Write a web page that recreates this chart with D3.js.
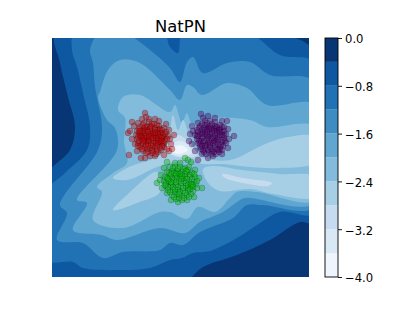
<!DOCTYPE html>
<html><head><meta charset="utf-8">
<script src="https://cdn.jsdelivr.net/npm/d3@7"></script>
<style>html,body{margin:0;padding:0;background:#fff}svg{display:block}text{font-family:"DejaVu Sans",sans-serif;fill:#000}</style>
</head><body><svg id="c" width="415" height="312"></svg>
<script>
const title = "NatPN";
const levels = [-4,-3.6,-3.2,-2.8,-2.4,-2,-1.6,-1.2,-0.8,-0.4,0];
const bandColors = ["#eef5fc","#d9e8f5","#c6dbef","#a6cee4","#82bbdb","#5fa6d1","#3d8dc4","#2171b5","#0e58a2","#083674"];
const cbTicks = [0,-0.8,-1.6,-2.4,-3.2,-4];

// iso-regions of the field, darkest outward first, in plot data units
const band08 = [[[4,239],[8,214],[16,180],[23,150],[18,127],[0,100],[0,0],[130,0],[151,10],[185,22],[218,37],[248,55],[257,54],[257,225],[218,239],[185,239],[180,235],[170,235],[166,239]]];
const band07 = [[[23,239],[20,227],[25,210],[31,184],[38,150],[35,127],[13,104],[0,85],[0,17],[21,15],[31,9],[71,7],[98,9],[118,17],[130,19],[141,24],[158,26],[185,39],[205,52],[228,65],[257,64],[257,214],[228,222],[195,239],[131,239],[126,224],[118,230],[111,239]]];
const band06 = [[[48,239],[38,227],[41,214],[43,190],[50,150],[46,127],[8,72],[15,64],[5,37],[31,34],[51,19],[71,25],[108,27],[118,34],[131,32],[148,45],[181,59],[195,72],[211,72],[257,70],[257,195],[218,202],[198,215],[175,214],[151,204],[141,220],[135,215],[128,195],[118,209],[98,227],[71,239]]];
const band05 = [[[68,217],[56,207],[48,185],[46,180],[55,157],[63,149],[65,127],[25,77],[35,74],[21,47],[50,42],[65,37],[108,49],[133,44],[148,55],[171,65],[185,75],[193,79],[257,74],[257,172],[215,172],[195,189],[175,194],[150,182],[141,190],[135,192],[128,177],[118,187],[88,214]]];
const band04 = [[[71,180],[66,167],[73,159],[72,135],[75,114],[61,104],[45,90],[50,85],[41,57],[71,49],[108,65],[118,65],[135,58],[146,70],[163,65],[178,79],[185,85],[205,85],[257,77],[257,150],[215,150],[198,157],[158,159],[140,154],[135,164],[130,154],[123,172],[118,165],[88,182]]];
const band03 = [
 [[61,99],[75,109],[108,122],[116,135],[121,162],[126,147],[131,157],[136,145],[143,127],[153,119],[178,117],[211,132],[231,139],[257,140],[257,115],[228,109],[198,110],[170,113],[150,113],[138,117],[118,114],[105,110],[75,97]],
 [[61,67],[78,85],[105,105],[108,85],[85,74],[65,67]],
 [[151,108],[161,111],[190,107],[228,103],[257,100],[257,80],[221,83],[198,88],[168,86],[156,94]]];
const band02 = [[[170,103],[191,99],[220,94],[216,91],[191,94],[173,99]],[[113,127],[120,137],[126,142],[135,137],[143,127],[145,122],[133,119],[120,122]]];
const band01 = [[[116,127],[126,136],[135,133],[140,124],[126,121]]];
const band00 = [[[119,127],[128,132],[136,127],[126,123]]];
const bands = [band08,band07,band06,band05,band04,band03,band02,band01,band00];

const redPts = [[93,164],[94,160],[80,155],[76,144],[77,122],[122,142],[120,128],[97,158],[103,158],[107,156],[114,153],[117,147],[118,138],[119,133],[115,128],[117,126],[112,122],[103,121],[98,121],[93,119],[89,119],[85,126],[83,133],[80,138],[78,146],[82,151],[86,154],[90,158],
[92,154],[97,155],[102,153],[107,151],[88,150],[93,150],[98,151],[103,149],[108,148],[112,149],[85,146],[90,146],[95,147],[100,146],[105,145],[110,144],[114,145],[84,142],[88,142],[93,143],[97,142],[102,142],[107,141],[112,140],[116,141],[85,138],[90,138],[95,139],[99,138],[104,137],[109,137],[113,136],[86,134],[91,134],[96,134],[101,134],[106,133],[111,133],[88,130],[93,130],[98,129],[103,130],[108,129],[112,130],[91,126],[96,125],[101,126],[106,125],[92,148],[99,144],[104,141],[96,137],[101,131],[108,135],[90,141],[94,136],[106,147],[110,139],
[87,148],[91,152],[95,150],[100,153],[105,152],[110,147],[113,143],[108,144],[103,147],[98,148],[93,146],[87,144],[86,140],[91,144],[96,145],[101,143],[106,143],[111,142],[115,138],[109,140],[104,139],[99,141],[94,141],[89,140],[87,136],[92,137],[97,136],[102,136],[107,135],[112,134],[110,131],[105,131],[99,132],[94,132],[89,132],[90,128],[95,128],[100,127],[105,127],[109,127],[88,146],[97,140],[103,144],[92,139],[101,139],[106,137],[96,131],[91,136],[99,150],[104,134],[86,131],[110,136],[94,124],[100,124],[104,123]];
const purplePts = [[149,163],[182,141],[138,143],[137,136],[140,151],[151,159],[156,161],[163,159],[170,156],[175,156],[176,148],[177,138],[176,129],[170,123],[161,121],[156,119],[150,123],[143,126],[140,133],[141,146],[146,154],[146,117],
[153,156],[158,156],[163,155],[168,152],[148,151],[153,152],[158,151],[163,151],[168,148],[172,150],[145,147],[150,147],[155,148],[160,147],[165,146],[170,145],[174,143],[143,142],[148,143],[153,143],[158,143],[163,142],[168,142],[172,139],[145,138],[150,139],[155,138],[160,138],[165,138],[170,135],[174,134],[146,134],[151,134],[156,134],[161,134],[166,133],[171,131],[148,130],[153,129],[158,130],[163,129],[168,128],[152,125],[157,125],[162,125],[167,125],[151,145],[157,141],[162,136],[154,132],[166,140],[149,136],[159,128],[164,149],[172,142],[156,150],
[150,153],[155,154],[160,153],[165,150],[170,150],[147,149],[152,149],[157,148],[162,148],[167,147],[172,146],[146,145],[150,143],[155,145],[160,144],[165,144],[170,142],[145,141],[151,140],[156,140],[161,140],[166,137],[171,137],[147,136],[152,136],[157,136],[164,135],[169,132],[173,136],[148,133],[153,131],[158,132],[163,132],[168,130],[151,127],[156,127],[160,126],[165,128],[170,127],[154,123],[160,123],[164,123],[149,128],[146,141],[159,149],[153,147],[162,146],[168,145],[155,142],[163,139],[158,134],[150,131],[166,127]];
const greenPts = [[105,94],[150,89],[133,119],[136,117],[139,115],[128,114],[123,114],[115,115],[112,109],[109,102],[108,97],[110,89],[115,84],[119,77],[126,75],[135,77],[142,80],[145,89],[147,99],[143,107],[137,110],
[118,110],[123,110],[128,110],[133,109],[115,105],[120,106],[125,106],[130,105],[135,105],[140,104],[113,100],[118,101],[123,101],[128,101],[133,100],[138,100],[143,100],[112,96],[117,96],[122,97],[127,96],[132,96],[137,95],[142,95],[114,91],[119,92],[124,92],[129,91],[134,91],[139,90],[144,93],[116,87],[121,87],[126,87],[131,86],[136,86],[141,86],[120,82],[125,82],[130,81],[135,82],[139,83],[124,78],[130,77],[126,104],[131,99],[120,94],[136,89],[123,85],
[121,109],[126,108],[131,108],[136,107],[117,104],[122,104],[128,103],[133,103],[138,102],[142,103],[115,99],[120,99],[125,99],[130,101],[135,98],[140,98],[145,96],[114,94],[119,95],[124,95],[129,94],[134,94],[139,93],[116,90],[121,90],[126,90],[131,89],[136,92],[141,90],[118,85],[123,88],[128,85],[133,84],[138,88],[122,80],[127,79],[132,79],[137,80],[116,98],[129,98],[124,103],[140,92],[127,83],[113,92],[134,106],[119,103]];

const W = 415, H = 312;
const svg = d3.select("#c");
const x = d3.scaleLinear().domain([0,257]).range([52,309]);
const y = d3.scaleLinear().domain([0,239]).range([277,38]);
const cb = d3.scaleLinear().domain([-4,0]).range([277,38]);
// rings that touch the plot frame are pushed past it so smoothing leaves the edge clean
const ex = v => v<=0 ? v-6 : v>=257 ? v+6 : v;
const ey = v => v<=0 ? v-6 : v>=239 ? v+6 : v;
const line = d3.line().x(d=>x(ex(d[0]))).y(d=>y(ey(d[1]))).curve(d3.curveCatmullRomClosed.alpha(0.5));

svg.append("defs").append("clipPath").attr("id","pc").append("rect")
  .attr("x",x(0)).attr("y",y(239)).attr("width",x(257)-x(0)).attr("height",y(0)-y(239));
const plot = svg.append("g").attr("clip-path","url(#pc)");
plot.append("rect").attr("x",x(0)).attr("y",y(239)).attr("width",x(257)-x(0)).attr("height",y(0)-y(239)).attr("fill",bandColors[9]);
bands.forEach((rings,i)=>{
  plot.selectAll(null).data(rings).enter().append("path").attr("d",line).attr("fill",bandColors[8-i]);
});
[[redPts,"#c40000"],[purplePts,"#580068"],[greenPts,"#00b800"]].forEach(([pts,c])=>{
  svg.append("g").selectAll("circle").data(pts).enter().append("circle")
    .attr("cx",d=>x(d[0])).attr("cy",d=>y(d[1])).attr("r",3)
    .attr("fill",c).attr("fill-opacity",.4)
    .attr("stroke","#000").attr("stroke-opacity",.2).attr("stroke-width",.8);
});
svg.append("text").attr("x",180.5).attr("y",32).attr("text-anchor","middle").attr("font-size",16.4).text(title);

const cbg = svg.append("g");
cbg.selectAll("rect").data(d3.range(10)).enter().append("rect")
  .attr("x",325).attr("width",13)
  .attr("y",i=>cb(levels[i+1])).attr("height",i=>cb(levels[i])-cb(levels[i+1]))
  .attr("fill",i=>bandColors[i]);
cbg.append("rect").attr("x",325).attr("y",cb(0)).attr("width",13).attr("height",cb(-4)-cb(0)).attr("fill","none").attr("stroke","#000").attr("stroke-width",.9);
const ax = d3.axisRight(cb).tickValues(cbTicks).tickSize(4).tickPadding(3).tickFormat(d3.format(".1f"));
const ag = svg.append("g").attr("transform","translate(338,0)").call(ax);
ag.select(".domain").remove();
ag.selectAll("line").attr("stroke","#000").attr("stroke-width",.9);
ag.selectAll("text").attr("font-size",11.6).attr("font-family",'"DejaVu Sans",sans-serif').attr("y",0).attr("dy","0.42em");
</script></body></html>
